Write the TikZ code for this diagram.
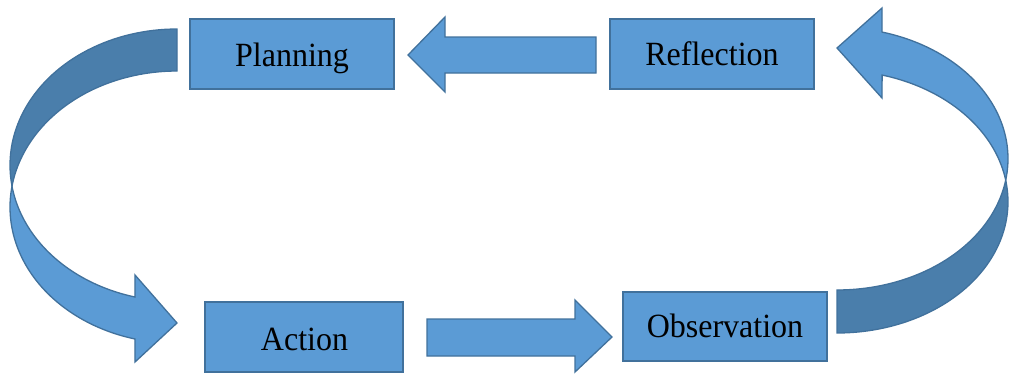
\documentclass[tikz,border=0pt]{standalone}
\usepackage{fontspec}
\setmainfont{Liberation Serif}
\definecolor{fillblue}{HTML}{5B9BD5}
\definecolor{darkblue}{HTML}{4A7EAB}
\definecolor{edgeblue}{HTML}{41719C}
\begin{document}
\begin{tikzpicture}[x=1pt,y=-1pt,
  box/.style={draw=edgeblue,fill=fillblue,line width=1.3pt,minimum width=204pt,minimum height=70pt,inner sep=0pt},
  lbl/.style={anchor=base,inner sep=0pt,text=black,font=\fontsize{32}{38}\selectfont},
  light/.style={draw=edgeblue,fill=fillblue,line width=1.3pt,line join=miter},
  dark/.style={draw=edgeblue,fill=darkblue,line width=1.3pt,line join=miter}]
\useasboundingbox (0,0) rectangle (1009,373);

% boxes
\node[box] (plan) at (292,54) {};
\node[box] (refl) at (712,54) {};
\node[box,minimum width=198pt] (act) at (304,337) {};
\node[box,minimum height=69pt] (obs) at (725,326.5) {};
\node[lbl] (planT) at (292,66.5) {\scalebox{1}[1.06]{Planning}};
\node[lbl] (reflT) at (712,65.7) {\scalebox{1}[1.06]{Reflection}};
\node[lbl] (actT) at (304.5,350) {\scalebox{1}[1.06]{Action}};
\node[lbl] (obsT) at (725,337.5) {\scalebox{1}[1.06]{Observation}};

% straight block arrows
\draw[light] (408,55) -- (445,17) -- (445,37) -- (596,37) -- (596,73) -- (445,73) -- (445,92) -- cycle;
\draw[light] (427,319) -- (575,319) -- (575,300) -- (612,337) -- (575,372) -- (575,356) -- (427,356) -- cycle;

% right curved arrow (Observation -> Reflection)
\draw[dark] plot[domain=9.42:-90,samples=50,variable=\t] ({837+171*cos(\t)},{201.7-131.3*sin(\t)})
  -- (837,290)
  -- plot[domain=-90:-9.42,samples=50,variable=\t] ({837+171*cos(\t)},{158.7-131.3*sin(\t)}) -- cycle;
\draw[light] (882,32)
  -- plot[domain=74.7:-9.42,samples=50,variable=\t] ({837+171*cos(\t)},{158.7-131.3*sin(\t)})
  -- plot[domain=9.42:74.7,samples=50,variable=\t] ({837+171*cos(\t)},{201.7-131.3*sin(\t)})
  -- (882,98) -- (837,48) -- (882,8) -- cycle;

% left curved arrow (Planning -> Action)
\draw[dark] (177,29)
  -- plot[domain=90:-8.87,samples=50,variable=\t] ({177-167*cos(\t)},{165.2-136.2*sin(\t)})
  -- plot[domain=8.87:90,samples=50,variable=\t] ({177-167*cos(\t)},{207.2-136.2*sin(\t)})
  -- cycle;
\draw[light] plot[domain=8.87:-75.4,samples=50,variable=\t] ({177-167*cos(\t)},{207.2-136.2*sin(\t)})
  -- (135,362) -- (177,323) -- (135,275)
  -- plot[domain=-75.4:-8.87,samples=50,variable=\t] ({177-167*cos(\t)},{165.2-136.2*sin(\t)})
  -- cycle;
\end{tikzpicture}
\end{document}
